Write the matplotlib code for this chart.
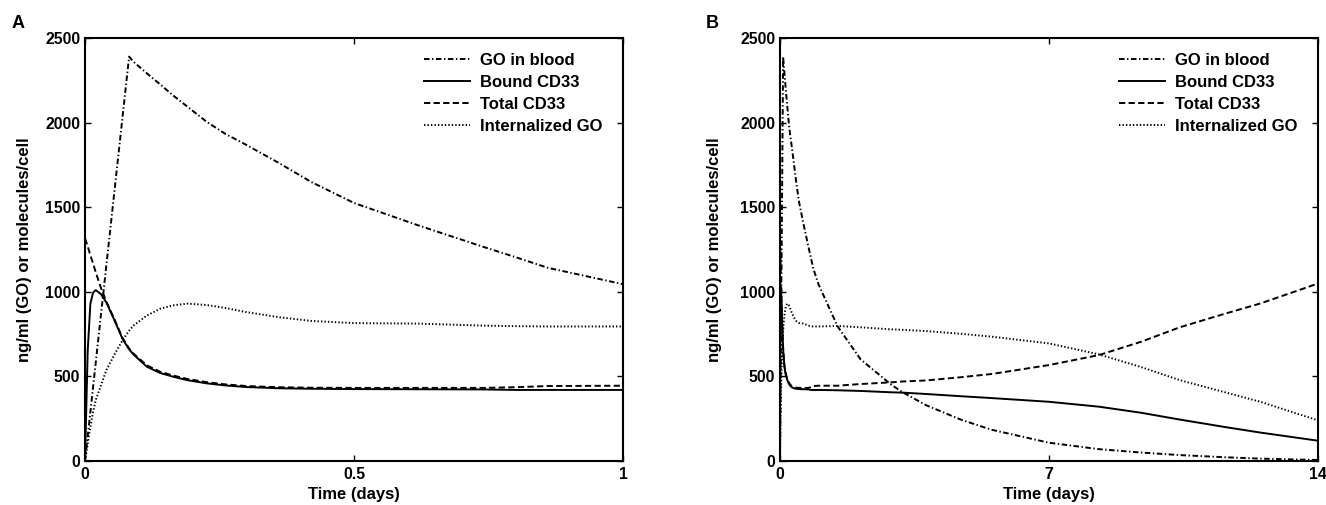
import matplotlib
matplotlib.use('Agg')
import matplotlib.pyplot as plt

plt.rcParams['font.family'] = ['Liberation Sans', 'DejaVu Sans']
plt.rcParams['font.weight'] = 'bold'
plt.rcParams['lines.scale_dashes'] = False

# panel A: first day (time in days)
t_early = [0, 0.005, 0.01, 0.015, 0.02, 0.03, 0.04, 0.055, 0.07, 0.082, 0.09, 0.115, 0.14,
           0.164, 0.19, 0.226, 0.26, 0.3, 0.36, 0.42, 0.5, 0.62, 0.74, 0.8, 0.86, 1.0]
go_early = [0, 146, 290, 437, 583, 874, 1166, 1603, 2040, 2390, 2360, 2291, 2225,
            2160, 2095, 2005, 1935, 1868, 1762, 1650, 1525, 1392, 1266, 1205, 1142, 1045]
bound_early = [0, 650, 930, 995, 1010, 985, 935, 830, 720, 660, 630, 557, 520,
               498, 478, 459, 447, 437, 430, 427, 425, 424, 423, 420, 420, 420]
total_early = [1316, 1270, 1215, 1168, 1115, 1020, 940, 835, 725, 665, 635, 565, 527,
               505, 485, 466, 453, 443, 436, 433, 432, 432, 432, 436, 443, 445]
intern_early = [0, 100, 200, 290, 360, 450, 540, 630, 715, 770, 800, 860, 900,
                920, 930, 922, 905, 880, 850, 828, 815, 812, 800, 797, 795, 795]

# panel B continues the same run out to 14 days
t_late = [1.5, 2.1, 2.9, 3.2, 3.8, 4.7, 5.5, 7.0, 8.3, 9.4, 10.4, 11.6, 12.5, 14]
go_late = [795, 600, 450, 405, 330, 245, 185, 108, 70, 50, 35, 22, 14, 6]
bound_late = [418, 414, 406, 404, 396, 383, 372, 350, 321, 285, 245, 200, 168, 120]
total_late = [445, 455, 465, 470, 476, 495, 514, 567, 626, 705, 790, 872, 931, 1049]
intern_late = [798, 790, 778, 775, 768, 752, 735, 695, 630, 555, 478, 405, 350, 240]

labels = ['GO in blood', 'Bound CD33', 'Total CD33', 'Internalized GO']
dash_styles = [(4, 1.8, 1, 1.8), None, (4.5, 2.4), (1, 1.5)]

W, H = 1326, 505


def draw_panel(ax, t, series, xticks, xticklabels, ylab_x):
    for vals, lab, ds in zip(series, labels, dash_styles):
        if ds is None:
            ax.plot(t, vals, color='black', lw=1.4, label=lab)
        else:
            ax.plot(t, vals, color='black', lw=1.4, dashes=ds, label=lab)
    ax.set_xlim(xticks[0], xticks[-1])
    ax.set_ylim(0, 2500)
    ax.set_xticks(xticks)
    ax.set_xticklabels(xticklabels)
    ax.set_yticks([0, 500, 1000, 1500, 2000, 2500])
    ax.tick_params(direction='in', top=True, right=True, length=4.5, width=1,
                   labelsize=11.4, pad=4)
    ax.tick_params(axis='y', pad=3.5)
    for s in ax.spines.values():
        s.set_linewidth(1.5)
    ax.set_xlabel('Time (days)', fontsize=12, fontweight='bold')
    ax.set_ylabel('ng/ml (GO) or molecules/cell', fontsize=12, fontweight='bold')
    ax.xaxis.set_label_coords(0.5, -0.062)
    ax.yaxis.set_label_coords(ylab_x, 0.5)
    leg = ax.legend(loc='upper right', bbox_to_anchor=(0.962, 0.964), frameon=False,
                    fontsize=12, handlelength=2.75, handletextpad=0.6,
                    labelspacing=0.42, borderpad=0, borderaxespad=0)
    for txt in leg.get_texts():
        txt.set_fontweight('bold')


fig = plt.figure(figsize=(W / 100, H / 100), dpi=100)
axA = fig.add_axes([85 / W, 1 - 461 / H, 538 / W, 423 / H])
axB = fig.add_axes([780 / W, 1 - 461 / H, 538 / W, 423 / H])

draw_panel(axA, t_early, [go_early, bound_early, total_early, intern_early],
           [0, 0.5, 1], ['0', '0.5', '1'], -0.099)
draw_panel(axB, t_early + t_late,
           [go_early + go_late, bound_early + bound_late,
            total_early + total_late, intern_early + intern_late],
           [0, 7, 14], ['0', '7', '14'], -0.107)

fig.text(12 / W, 1 - 24 / H, 'A', fontsize=13, fontweight='bold', va='center')
fig.text(706 / W, 1 - 24 / H, 'B', fontsize=13, fontweight='bold', va='center')

fig.savefig('out.png', dpi=100)
